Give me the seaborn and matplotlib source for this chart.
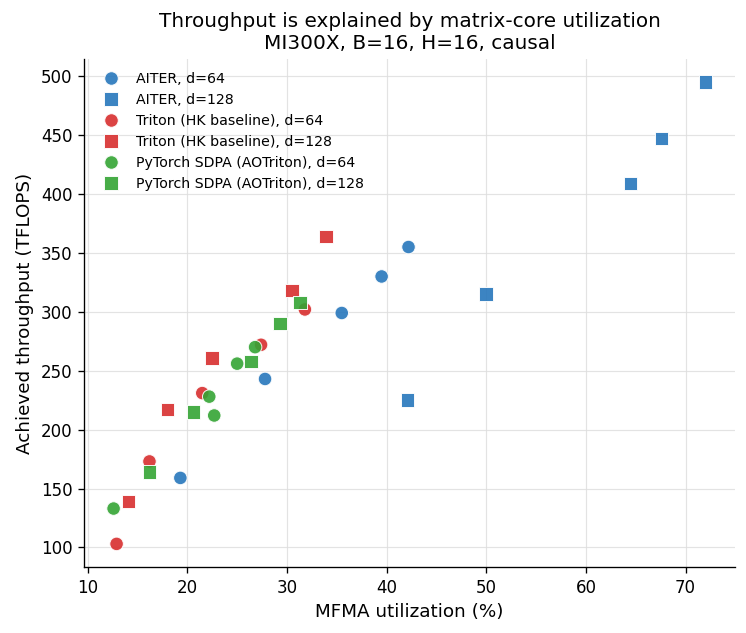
import matplotlib
matplotlib.use("Agg")
import matplotlib.pyplot as plt
import seaborn as sns
import pandas as pd

# MFMA utilization (%) and achieved TFLOPS
aiter_64_x = [19.3, 27.8, 35.5, 39.5, 42.2]
aiter_64_y = [159, 243, 299, 330, 355]
aiter_128_x = [42.1, 50.0, 64.5, 67.6, 72.0]
aiter_128_y = [225, 315, 409, 447, 495]
triton_64_x = [12.9, 16.2, 21.5, 27.4, 31.8]
triton_64_y = [103, 173, 231, 272, 302]
triton_128_x = [14.1, 18.0, 22.5, 30.5, 33.9]
triton_128_y = [139, 217, 261, 318, 364]
sdpa_64_x = [12.6, 22.2, 22.7, 25.0, 26.8]
sdpa_64_y = [133, 228, 212, 256, 270]
sdpa_128_x = [16.2, 20.6, 26.4, 29.3, 31.3]
sdpa_128_y = [164, 215, 258, 290, 308]

series = [
    ("AITER, d=64", aiter_64_x, aiter_64_y),
    ("AITER, d=128", aiter_128_x, aiter_128_y),
    ("Triton (HK baseline), d=64", triton_64_x, triton_64_y),
    ("Triton (HK baseline), d=128", triton_128_x, triton_128_y),
    ("PyTorch SDPA (AOTriton), d=64", sdpa_64_x, sdpa_64_y),
    ("PyTorch SDPA (AOTriton), d=128", sdpa_128_x, sdpa_128_y),
]

rows = []
for name, xs, ys in series:
    for x, y in zip(xs, ys):
        rows.append({"series": name, "mfma": x, "tflops": y})
df = pd.DataFrame(rows)

kernel_colors = {"AITER": "#2777bc", "Triton": "#d82e2e", "PyTorch": "#34a434"}
palette = {}
markers = {}
for name, _, _ in series:
    palette[name] = kernel_colors[name.split()[0].rstrip(",")]
    markers[name] = "o" if name.endswith("d=64") else "s"

fig, ax = plt.subplots(figsize=(746 / 120, 633 / 120), dpi=120)
sns.scatterplot(data=df, x="mfma", y="tflops", hue="series", style="series",
                palette=palette, markers=markers, s=66, alpha=0.9,
                edgecolor="white", linewidth=0.6, ax=ax, zorder=3)

ax.set_title("Throughput is explained by matrix-core utilization\nMI300X, B=16, H=16, causal", fontsize=12)
ax.set_xlabel("MFMA utilization (%)", fontsize=11)
ax.set_ylabel("Achieved throughput (TFLOPS)", fontsize=11)
ax.tick_params(labelsize=10)
ax.grid(True, color="#dddddd", linewidth=0.7, alpha=0.8)
ax.set_axisbelow(True)
ax.legend(title=None, frameon=False, fontsize=8.5, loc="upper left")
sns.despine(ax=ax)

fig.subplots_adjust(left=0.1126, right=0.9853, top=0.9068, bottom=0.1043)
fig.savefig("out.png", dpi=120)
